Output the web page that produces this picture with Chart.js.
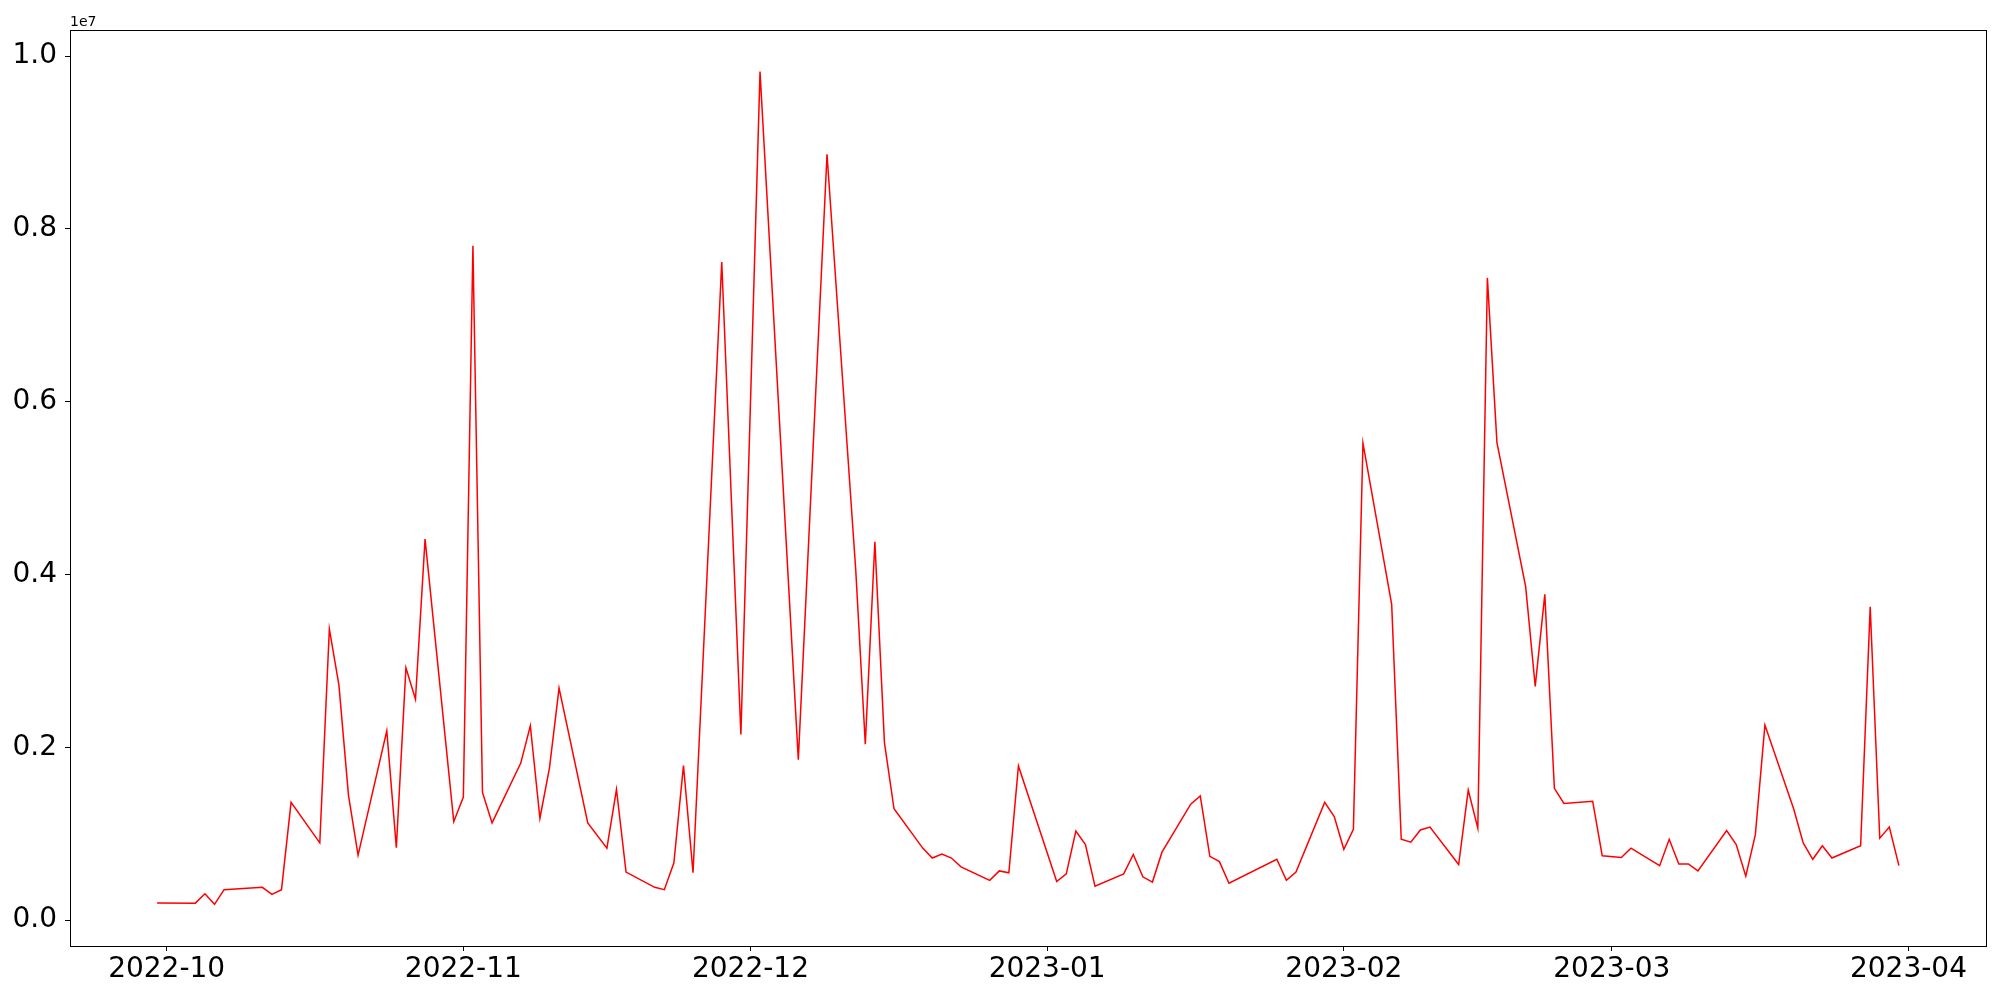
<!DOCTYPE html>
<html>
<head>
<meta charset="utf-8">
<script src="https://cdn.jsdelivr.net/npm/chart.js@4.4.0/dist/chart.umd.min.js"></script>
<style>
  body { margin: 0; background: #fff; }
  #chart { display: block; }
</style>
</head>
<body>
<canvas id="chart" width="2000" height="1000"></canvas>
<script>
// trading days and values (in millions, shown on axis as x1e7)
const dates = [
  '2022-09-30', '2022-10-04', '2022-10-05', '2022-10-06', '2022-10-07', '2022-10-11', '2022-10-12', '2022-10-13',
  '2022-10-14', '2022-10-17', '2022-10-18', '2022-10-19', '2022-10-20', '2022-10-21', '2022-10-24', '2022-10-25',
  '2022-10-26', '2022-10-27', '2022-10-28', '2022-10-31', '2022-11-01', '2022-11-02', '2022-11-03', '2022-11-04',
  '2022-11-07', '2022-11-08', '2022-11-09', '2022-11-10', '2022-11-11', '2022-11-14', '2022-11-16', '2022-11-17',
  '2022-11-18', '2022-11-21', '2022-11-22', '2022-11-23', '2022-11-24', '2022-11-25', '2022-11-28', '2022-11-30',
  '2022-12-02', '2022-12-06', '2022-12-09', '2022-12-12', '2022-12-13', '2022-12-14', '2022-12-15', '2022-12-16',
  '2022-12-19', '2022-12-20', '2022-12-21', '2022-12-22', '2022-12-23', '2022-12-26', '2022-12-27', '2022-12-28',
  '2022-12-29', '2023-01-02', '2023-01-03', '2023-01-04', '2023-01-05', '2023-01-06', '2023-01-09', '2023-01-10',
  '2023-01-11', '2023-01-12', '2023-01-13', '2023-01-16', '2023-01-17', '2023-01-18', '2023-01-19', '2023-01-20',
  '2023-01-25', '2023-01-26', '2023-01-27', '2023-01-30', '2023-01-31', '2023-02-01', '2023-02-02', '2023-02-03',
  '2023-02-06', '2023-02-07', '2023-02-08', '2023-02-09', '2023-02-10', '2023-02-13', '2023-02-14', '2023-02-15',
  '2023-02-16', '2023-02-17', '2023-02-20', '2023-02-21', '2023-02-22', '2023-02-23', '2023-02-24', '2023-02-27',
  '2023-02-28', '2023-03-02', '2023-03-03', '2023-03-06', '2023-03-07', '2023-03-08', '2023-03-09', '2023-03-10',
  '2023-03-13', '2023-03-14', '2023-03-15', '2023-03-16', '2023-03-17', '2023-03-20', '2023-03-21', '2023-03-22',
  '2023-03-23', '2023-03-24', '2023-03-27', '2023-03-28', '2023-03-29', '2023-03-30', '2023-03-31'
];

const valuesMillions = [
  0.20, 0.197, 0.305, 0.183, 0.353, 0.38, 0.298, 0.353,
  1.363, 0.895, 3.37, 2.72, 1.445, 0.753, 2.19, 0.84,
  2.92, 2.557, 4.41, 1.14, 1.424, 7.806, 1.478, 1.126,
  1.818, 2.25, 1.18, 1.763, 2.686, 1.126, 0.834, 1.512,
  0.556, 0.38, 0.353, 0.665, 1.79, 0.549, 7.616, 2.15,
  9.82, 1.858, 8.864, 4.056, 2.035, 4.38, 2.055, 1.289,
  0.834, 0.719, 0.766, 0.719, 0.617, 0.461, 0.57, 0.549,
  1.784, 0.448, 0.536, 1.031, 0.875, 0.393, 0.536, 0.76,
  0.502, 0.441, 0.787, 1.343, 1.438, 0.739, 0.678, 0.427,
  0.705, 0.461, 0.556, 1.363, 1.2, 0.82, 1.051, 5.52,
  3.655, 0.936, 0.902, 1.044, 1.078, 0.644, 1.506, 1.065,
  7.433, 5.527, 3.86, 2.706, 3.771, 1.526, 1.35, 1.377,
  0.746, 0.726, 0.834, 0.631, 0.936, 0.651, 0.651, 0.57,
  1.038, 0.875, 0.509, 0.99, 2.258, 1.289, 0.895, 0.705,
  0.861, 0.719, 0.861, 3.628, 0.949, 1.078, 0.631
];

const monthTicks = ['2022-10', '2022-11', '2022-12', '2023-01', '2023-02', '2023-03', '2023-04'];
const yTicks = [0, 2e6, 4e6, 6e6, 8e6, 1e7];

const FONT = 'DejaVu Sans';

function dayNum(s) {
  const p = s.split('-').map(Number);
  return Date.UTC(p[0], p[1] - 1, p[2] || 1) / 86400000;
}

const points = dates.map((d, i) => ({ x: dayNum(d), y: valuesMillions[i] * 1e6 }));

// matplotlib-like 5% margins
const xs = points.map(p => p.x), ys = points.map(p => p.y);
const xMin = Math.min(...xs), xMax = Math.max(...xs);
const yMin = Math.min(...ys), yMax = Math.max(...ys);
const xPad = (xMax - xMin) * 0.05, yPad = (yMax - yMin) * 0.05;

// box around the plot + the "1e7" offset label
const framePlugin = {
  id: 'frame',
  afterDraw(chart) {
    const { ctx, chartArea: a } = chart;
    ctx.save();
    ctx.strokeStyle = '#000';
    ctx.lineWidth = 1;
    ctx.strokeRect(Math.round(a.left) + 0.5, Math.round(a.top) + 0.5,
      Math.round(a.right - a.left), Math.round(a.bottom - a.top));
    ctx.fillStyle = '#000';
    ctx.font = '14px "' + FONT + '"';
    ctx.textAlign = 'left';
    ctx.textBaseline = 'alphabetic';
    ctx.fillText('1e7', a.left, a.top - 4);
    ctx.restore();
  }
};

new Chart(document.getElementById('chart'), {
  type: 'line',
  data: {
    datasets: [{
      data: points,
      borderColor: '#ff0000',
      borderWidth: 1.5,
      pointRadius: 0,
      tension: 0,
      fill: false
    }]
  },
  options: {
    responsive: false,
    animation: false,
    devicePixelRatio: 1,
    layout: { padding: { top: 30, right: 14, left: 0, bottom: 0 } },
    plugins: { legend: { display: false }, tooltip: { enabled: false } },
    scales: {
      x: {
        type: 'linear',
        min: xMin - xPad,
        max: xMax + xPad,
        afterFit: s => { s.height = 54; },
        afterBuildTicks: s => { s.ticks = monthTicks.map(m => ({ value: dayNum(m) })); },
        grid: { drawOnChartArea: false, drawTicks: true, tickLength: 5, tickWidth: 1, tickColor: '#000' },
        border: { display: false },
        ticks: {
          color: '#000',
          padding: 2,
          maxRotation: 0,
          autoSkip: false,
          font: { family: FONT, size: 28 },
          callback: (v, i) => monthTicks[i]
        }
      },
      y: {
        type: 'linear',
        min: yMin - yPad,
        max: yMax + yPad,
        afterFit: s => { s.width = 70; },
        afterBuildTicks: s => { s.ticks = yTicks.map(v => ({ value: v })); },
        grid: { drawOnChartArea: false, drawTicks: true, tickLength: 5, tickWidth: 1, tickColor: '#000' },
        border: { display: false },
        ticks: {
          color: '#000',
          padding: 8,
          font: { family: FONT, size: 28 },
          callback: v => (v / 1e7).toFixed(1)
        }
      }
    }
  },
  plugins: [framePlugin]
});
</script>
</body>
</html>
